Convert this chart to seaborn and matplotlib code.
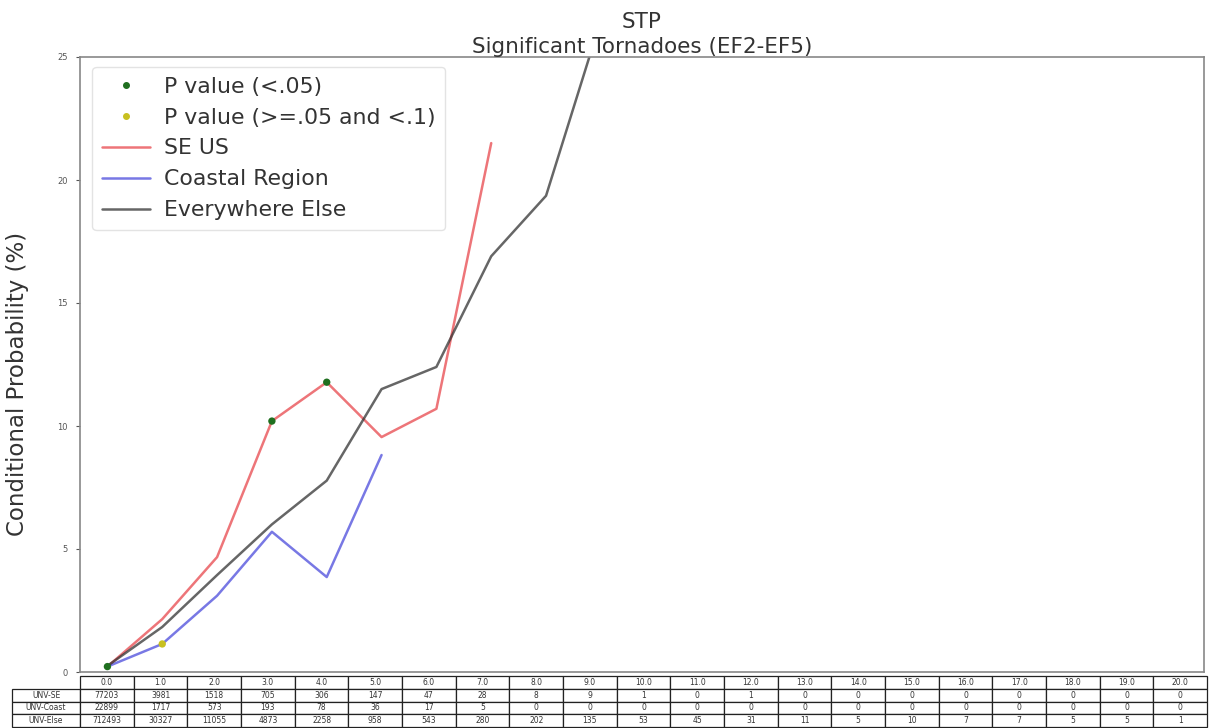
import numpy as np
import pandas as pd
import matplotlib
matplotlib.use("Agg")
import matplotlib.pyplot as plt
from matplotlib.lines import Line2D
import seaborn as sns

# STP bins (columns of the count table)
stp_bins = [f"{v:.1f}" for v in range(21)]

# Conditional probability (%) of a significant tornado per STP bin
se_us = [0.22, 2.15, 4.67, 10.2, 11.78, 9.55, 10.7, 21.5]
coastal = [0.22, 1.14, 3.1, 5.7, 3.86, 8.82]
everywhere_else = [0.25, 1.83, 3.94, 6.0, 7.78, 11.5, 12.4, 16.9, 19.36, 26.5]

# Significance markers: (bin index, probability)
p_lt_05_x = [0, 3, 4]
p_lt_05_y = [0.22, 10.2, 11.78]
p_05_10_x = [1]
p_05_10_y = [1.14]

# Sample counts per bin
row_labels = ["UNV-SE", "UNV-Coast", "UNV-Else"]
n_se = [77203, 3981, 1518, 705, 306, 147, 47, 28, 8, 9, 1, 0, 1, 0, 0, 0, 0, 0, 0, 0, 0]
n_coast = [22899, 1717, 573, 193, 78, 36, 17, 5, 0, 0, 0, 0, 0, 0, 0, 0, 0, 0, 0, 0, 0]
n_else = [712493, 30327, 11055, 4873, 2258, 958, 543, 280, 202, 135, 53, 45, 31, 11, 5, 10, 7, 7, 5, 5, 1]

series = {"SE US": se_us, "Coastal Region": coastal, "Everywhere Else": everywhere_else}
colors = {"SE US": "#e8474c", "Coastal Region": "#4b4bdc", "Everywhere Else": "#333333"}

frames = []
for name, vals in series.items():
    frames.append(pd.DataFrame({"stp": np.arange(len(vals)), "prob": vals, "region": name}))
lines_df = pd.concat(frames, ignore_index=True)

sig_df = pd.concat([
    pd.DataFrame({"stp": p_lt_05_x, "prob": p_lt_05_y, "sig": "P value (<.05)"}),
    pd.DataFrame({"stp": p_05_10_x, "prob": p_05_10_y, "sig": "P value (>=.05 and <.1)"}),
], ignore_index=True)
sig_colors = {"P value (<.05)": "#1f6f1f", "P value (>=.05 and <.1)": "#c8c020"}

sns.set_style("white")
plt.rcParams["font.family"] = ["DejaVu Sans"]

fig = plt.figure(figsize=(12.11, 7.28), dpi=100)
ax = fig.add_axes([80 / 1211, 56 / 728, (1204 - 80) / 1211, (671 - 56) / 728])

sns.lineplot(data=lines_df, x="stp", y="prob", hue="region", palette=colors,
             hue_order=list(series), linewidth=1.8, alpha=0.75, sort=False,
             estimator=None, legend=False, ax=ax)
sns.scatterplot(data=sig_df, x="stp", y="prob", hue="sig", palette=sig_colors,
                s=28, edgecolor="none", legend=False, ax=ax, zorder=5)

ax.set_xlim(-0.5, 20.0)
ax.set_ylim(0, 25)
ax.set_yticks([0, 5, 10, 15, 20, 25])
ax.set_xticks([])
ax.set_xlabel("")
ax.tick_params(axis="y", left=True, length=3, width=0.8, labelsize=6,
               colors="#555555", pad=6)
for sp in ax.spines.values():
    sp.set_color("#888888")
    sp.set_linewidth(1.2)

ax.set_ylabel("Conditional Probability (%)", fontsize=16.5, color="#333333")
ax.yaxis.set_label_coords(-0.045, 0.468)
ax.set_title("STP\nSignificant Tornadoes (EF2-EF5)", fontsize=15.5, color="#333333",
             pad=3, linespacing=1.3)

handles = [
    Line2D([], [], marker="o", linestyle="none", color=sig_colors["P value (<.05)"], markersize=4),
    Line2D([], [], marker="o", linestyle="none", color=sig_colors["P value (>=.05 and <.1)"], markersize=4),
]
for name in series:
    handles.append(Line2D([], [], color=colors[name], linewidth=1.8, alpha=0.75))
labels = ["P value (<.05)", "P value (>=.05 and <.1)"] + list(series)
leg = ax.legend(handles, labels, loc="upper left", fontsize=15.8, frameon=True,
                borderpad=0.45, labelspacing=0.5, handlelength=2.2,
                handletextpad=0.6, borderaxespad=0.3, bbox_to_anchor=(0.005, 0.995))
leg.get_frame().set_edgecolor("#dddddd")
for t in leg.get_texts():
    t.set_color("#333333")

# Count table under the axes
cell_text = [[row_labels[0]] + [str(v) for v in n_se],
             [row_labels[1]] + [str(v) for v in n_coast],
             [row_labels[2]] + [str(v) for v in n_else]]
col_labels = [""] + stp_bins
ax_w = 1204 - 80
ax_h = 671 - 56
x0 = (12 - 80) / ax_w
w = (1207 - 12) / ax_w
y_top = -4 / ax_h
y_bot = -(726 - 671) / ax_h
tbl = ax.table(cellText=cell_text, colLabels=col_labels,
               colWidths=[68] + [53.6] * 21, cellLoc="center",
               bbox=[x0, y_bot, w, y_top - y_bot])
tbl.auto_set_font_size(False)
tbl.set_fontsize(5.5)
for (r, c), cell in tbl.get_celld().items():
    cell.set_edgecolor("#222222")
    cell.set_linewidth(0.9)
    cell.get_text().set_color("#333333")
    if r == 0 and c == 0:
        cell.set_visible(False)

fig.savefig("out.png", dpi=100, facecolor="white")
